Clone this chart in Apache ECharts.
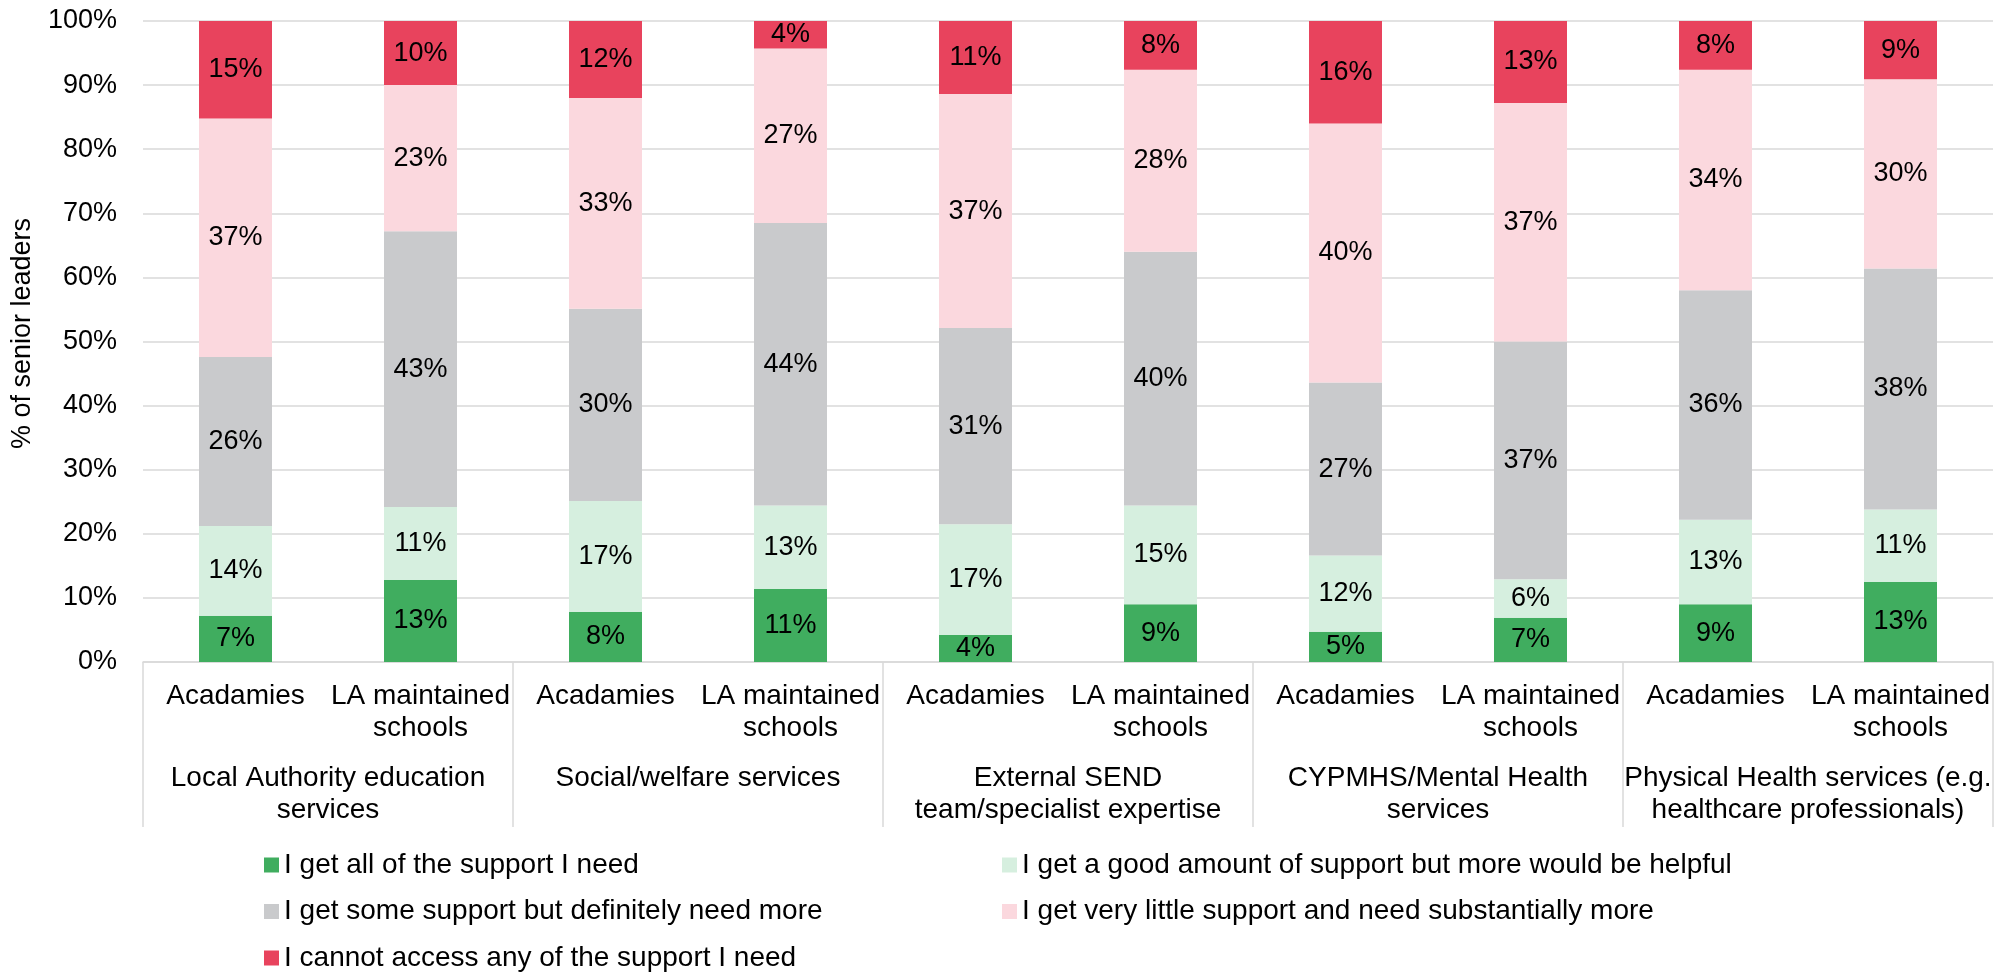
<!DOCTYPE html>
<html>
<head>
<meta charset="utf-8">
<title>Support for senior leaders</title>
<script src="https://cdn.jsdelivr.net/npm/echarts@6/dist/echarts.min.js"></script>
<style>
  html, body { margin: 0; padding: 0; background: #fff; }
  #chart { width: 2011px; height: 973px; }
</style>
</head>
<body>
<div id="chart"></div>
<script>
const schoolTypes = ['Acadamies', 'LA maintained\nschools', 'Acadamies', 'LA maintained\nschools', 'Acadamies',
  'LA maintained\nschools', 'Acadamies', 'LA maintained\nschools', 'Acadamies', 'LA maintained\nschools']
const services = ['Local Authority education\nservices', 'Social/welfare services', 'External SEND\nteam/specialist expertise',
  'CYPMHS/Mental Health\nservices', 'Physical Health services (e.g.\nhealthcare professionals)']
const yTicks = [0, 10, 20, 30, 40, 50, 60, 70, 80, 90, 100]

const seriesNames = [
  'I get all of the support I need',
  'I get a good amount of support but more would be helpful',
  'I get some support but definitely need more',
  'I get very little support and need substantially more',
  'I cannot access any of the support I need'
]
const allSupport = [7.2, 12.8, 7.8, 11.4, 4.2, 9.0, 4.7, 6.9, 9.0, 12.5]
const goodAmount = [14.0, 11.4, 17.3, 13.0, 17.3, 15.4, 11.9, 6.0, 13.2, 11.3]
const someSupport = [26.4, 43.0, 30.0, 44.1, 30.6, 39.6, 27.0, 37.1, 35.8, 37.6]
const veryLittle = [37.2, 22.8, 32.9, 27.2, 36.5, 28.4, 40.4, 37.2, 34.4, 29.5]
const noAccess = [15.2, 10.0, 12.0, 4.3, 11.4, 7.6, 16.0, 12.8, 7.6, 9.1]

const colors = ['#40ad5f', '#d6efdf', '#c9cacc', '#fbd8de', '#e8435d']
const font = 'Liberation Sans, Arial, sans-serif'
const gridColor = '#d9d9d9'

const Chart = echarts.init(document.getElementById('chart'))

const series = [allSupport, goodAmount, someSupport, veryLittle, noAccess].map((data, i) => {
  return {
    name: seriesNames[i],
    type: 'bar',
    stack: 'total',
    barWidth: 73,
    itemStyle: { color: colors[i] },
    label: {
      show: true,
      position: 'inside',
      color: '#000',
      fontFamily: font,
      fontSize: 27,
      formatter: p => Math.round(p.value) + '%'
    },
    data: data
  }
})

const legendText = { color: '#000', fontFamily: font, fontSize: 28, lineHeight: 30 }

const option = {
  animation: false,
  grid: { left: 143, right: 18, top: 21, bottom: 311 },
  legend: [
    {
      orient: 'vertical', left: 264, top: 850, padding: 0,
      itemWidth: 15, itemHeight: 15, itemGap: 16.5, icon: 'rect',
      textStyle: legendText,
      data: [seriesNames[0], seriesNames[2], seriesNames[4]]
    },
    {
      orient: 'vertical', left: 1002, top: 850, padding: 0,
      itemWidth: 15, itemHeight: 15, itemGap: 16.5, icon: 'rect',
      textStyle: legendText,
      data: [seriesNames[1], seriesNames[3]]
    }
  ],
  xAxis: [
    {
      type: 'category',
      data: schoolTypes,
      axisLine: { lineStyle: { color: gridColor, width: 1.5 } },
      axisTick: { show: false },
      axisLabel: { interval: 0, margin: 18, color: '#000', fontFamily: font, fontSize: 28, lineHeight: 32 }
    },
    {
      // outer level: service groups, long ticks act as separators
      type: 'category',
      position: 'bottom',
      data: services,
      axisLine: { show: false },
      axisTick: { show: true, interval: 0, length: 165, lineStyle: { color: gridColor, width: 1.5 } },
      axisLabel: { interval: 0, margin: 100, color: '#000', fontFamily: font, fontSize: 28, lineHeight: 32 }
    }
  ],
  yAxis: {
    type: 'value',
    min: yTicks[0],
    max: yTicks[yTicks.length - 1],
    interval: yTicks[1] - yTicks[0],
    name: '% of senior leaders',
    nameLocation: 'middle',
    nameRotate: 90,
    nameGap: 107,
    nameTextStyle: { color: '#000', fontFamily: font, fontSize: 27, padding: [0, 0, 0, 16] },
    axisLine: { show: false },
    axisTick: { show: false },
    axisLabel: { margin: 26, color: '#000', fontFamily: font, fontSize: 27, formatter: '{value}%' },
    splitLine: { lineStyle: { color: gridColor, width: 1.5 } }
  },
  series: series
}

Chart.setOption(option)
</script>
</body>
</html>
